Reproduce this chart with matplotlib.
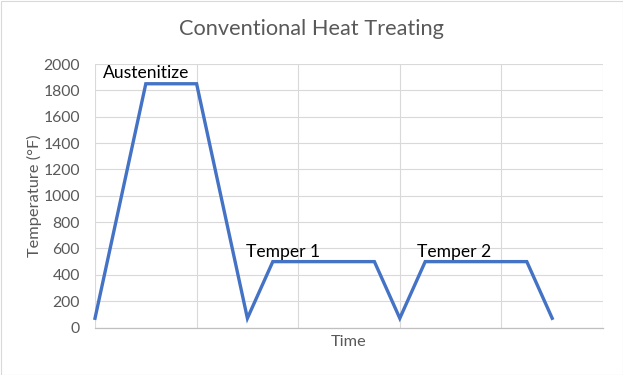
import matplotlib.pyplot as plt
from matplotlib.patches import Rectangle

# time (arbitrary units) and temperature (°F) of the heat treat cycle
time = [0, 1, 2, 3, 3.5, 5.5, 6, 6.5, 8.5, 9]
temp = [70, 1850, 1850, 70, 500, 500, 70, 500, 500, 70]

# stage labels: text, x, baseline y
stage_names = ['Austenitize', 'Temper 1', 'Temper 2']
stage_x = [1.0, 3.7, 7.07]
stage_y = [1895, 535, 535]

grid_col = '#d9d9d9'
text_col = '#595959'
plt.rcParams['font.family'] = ['Lato', 'DejaVu Sans']

fig = plt.figure(figsize=(6.23, 3.75), dpi=100)
ax = fig.add_axes([95 / 623, 47.5 / 375, 508 / 623, 263.5 / 375])

ax.plot(time, temp, color='#4472c4', linewidth=2.4, solid_joinstyle='miter', clip_on=False, zorder=3)

for name, x, y in zip(stage_names, stage_x, stage_y):
    ax.text(x, y, name, ha='center', va='baseline', fontsize=12.6, color='black')

ax.set_xlim(0, 10)
ax.set_ylim(0, 2000)
ax.set_xticks(range(0, 11, 2))
ax.set_yticks(range(0, 2001, 200))
ax.set_xticklabels([])
ax.tick_params(axis='both', length=0, labelsize=11.3, labelcolor=text_col, pad=11)
ax.grid(True, color=grid_col, linewidth=0.8)
ax.set_axisbelow(True)
for s in ['top', 'right', 'left']:
    ax.spines[s].set_visible(False)
ax.spines['bottom'].set_color('#bfbfbf')
ax.spines['bottom'].set_linewidth(0.9)

ax.set_xlabel('Time', fontsize=11.8, color=text_col)
ax.xaxis.set_label_coords(0.5, -0.028)
ax.set_ylabel('Temperature (°F)', fontsize=11.8, color=text_col, labelpad=1)
fig.text(0.5, 1 - 29 / 375, 'Conventional Heat Treating', ha='center', va='center',
         fontsize=15.7, color=text_col)

# thin chart border
fig.patches.append(Rectangle((0.5 / 623, 0.5 / 375), 622 / 623, 374 / 375, transform=fig.transFigure,
                             fill=False, edgecolor='#d9d9d9', linewidth=0.8))

fig.savefig('out.png', dpi=100)
